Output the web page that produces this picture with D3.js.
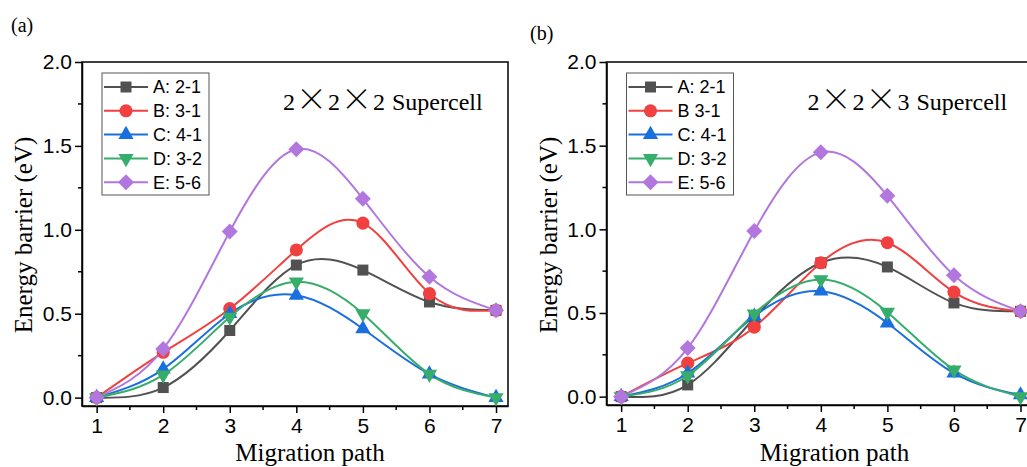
<!DOCTYPE html>
<html>
<head>
<meta charset="utf-8">
<script src="https://cdn.jsdelivr.net/npm/d3@7"></script>
<style>
  body { margin: 0; background: #fff; }
  svg { display: block; }
</style>
</head>
<body>
<script>
// migration path index (x axis)
var paths = [1, 2, 3, 4, 5, 6, 7];

// legend names
var namesA = ["A: 2-1", "B: 3-1", "C: 4-1", "D: 3-2", "E: 5-6"];
var namesB = ["A: 2-1", "B 3-1", "C: 4-1", "D: 3-2", "E: 5-6"];

// (a) 2x2x2 supercell, energy barrier in eV
var a_A = [0, 0.06, 0.40, 0.79, 0.76, 0.57, 0.52];
var a_B = [0, 0.27, 0.53, 0.88, 1.04, 0.62, 0.52];
var a_C = [0, 0.17, 0.50, 0.61, 0.41, 0.14, 0];
var a_D = [0, 0.135, 0.48, 0.69, 0.50, 0.14, 0];
var a_E = [0, 0.29, 0.99, 1.48, 1.185, 0.72, 0.52];

// (b) 2x2x3 supercell
var b_A = [0, 0.07, 0.47, 0.80, 0.775, 0.56, 0.51];
var b_B = [0, 0.20, 0.415, 0.80, 0.92, 0.625, 0.51];
var b_C = [0, 0.14, 0.48, 0.63, 0.44, 0.14, 0.01];
var b_D = [0, 0.125, 0.495, 0.70, 0.505, 0.16, 0];
var b_E = [0, 0.29, 0.99, 1.46, 1.20, 0.725, 0.51];

var yTicks = [0, 0.5, 1.0, 1.5, 2.0];
var yMinor = [0.25, 0.75, 1.25, 1.75];
var xMinor = [1.5, 2.5, 3.5, 4.5, 5.5, 6.5];

var colors = ["#515151", "#F14040", "#1A6FDF", "#37AD6B", "#B177DE"];

var W = 1027, H = 467;
var svg = d3.select("body").append("svg")
    .attr("width", W)
    .attr("height", H);

var serif = "'Liberation Serif', 'Times New Roman', serif";
var sans = "'Liberation Sans', Arial, sans-serif";

// marker per series: square, circle, up triangle, down triangle, diamond
function marker(i) {
    if (i == 0) return { p: d3.symbol(d3.symbolSquare, 121)(), r: 0 };
    if (i == 1) return { p: d3.symbol(d3.symbolCircle, 135)(), r: 0 };
    if (i == 2) return { p: d3.symbol(d3.symbolTriangle, 100)(), r: 0 };
    if (i == 3) return { p: d3.symbol(d3.symbolTriangle, 100)(), r: 180 };
    return { p: d3.symbol(d3.symbolSquare, 128)(), r: 45 };
}

function panel(opt) {
    var x = d3.scaleLinear().domain([0.78, 7.18]).range([opt.left, opt.left + 426]);
    var y = d3.scaleLinear().domain([-0.05, 2.0]).range([opt.bottom, 62]);
    var g = svg.append("g");

    // frame (top + right)
    g.append("rect")
        .attr("x", x.range()[0]).attr("y", y.range()[1])
        .attr("width", x.range()[1] - x.range()[0])
        .attr("height", y.range()[0] - y.range()[1])
        .attr("fill", "none").attr("stroke", "#000").attr("stroke-width", 1.5);

    // x axis
    var xa = g.append("g")
        .attr("transform", "translate(0," + y.range()[0] + ")")
        .call(d3.axisBottom(x).tickValues(paths).tickFormat(d3.format("d")).tickSize(7).tickPadding(5).tickSizeOuter(0));
    xa.append("g").selectAll("line").data(xMinor).enter().append("line")
        .attr("x1", function(d){ return x(d); }).attr("x2", function(d){ return x(d); })
        .attr("y1", 0).attr("y2", 4).attr("stroke", "#000").attr("stroke-width", 1.5);

    // y axis
    var ya = g.append("g")
        .attr("transform", "translate(" + x.range()[0] + ",0)")
        .call(d3.axisLeft(y).tickValues(yTicks).tickFormat(d3.format(".1f")).tickSize(7).tickPadding(3).tickSizeOuter(0));
    ya.append("g").selectAll("line").data(yMinor).enter().append("line")
        .attr("y1", function(d){ return y(d); }).attr("y2", function(d){ return y(d); })
        .attr("x1", 0).attr("x2", -4).attr("stroke", "#000").attr("stroke-width", 1.5);

    [xa, ya].forEach(function(a){
        a.select(".domain").attr("stroke-width", 1.5);
        a.selectAll(".tick line").attr("stroke-width", 1.5);
        a.selectAll("text").attr("font-family", sans).attr("font-size", 21).attr("fill", "#000");
    });

    // series
    var line = d3.line()
        .x(function(d, i){ return x(paths[i]); })
        .y(function(d){ return y(d); })
        .curve(d3.curveNatural);

    opt.series.forEach(function(s, k){
        g.append("path").datum(s)
            .attr("d", line)
            .attr("fill", "none")
            .attr("stroke", colors[k])
            .attr("stroke-width", 2);
    });
    opt.series.forEach(function(s, k){
        var m = marker(k);
        g.append("g").selectAll("path").data(s).enter().append("path")
            .attr("d", m.p)
            .attr("transform", function(d, i){
                return "translate(" + x(paths[i]) + "," + y(d) + ") rotate(" + m.r + ")";
            })
            .attr("fill", colors[k]);
    });

    // legend
    var lx = x.range()[0] + 20, ly = 73;
    var lg = g.append("g").attr("transform", "translate(" + lx + "," + ly + ")");
    lg.append("rect").attr("width", 107).attr("height", 122)
        .attr("fill", "#fff").attr("stroke", "#555").attr("stroke-width", 1);
    opt.names.forEach(function(n, k){
        var yy = 14 + k * 23.8;
        var m = marker(k);
        lg.append("line").attr("x1", 2).attr("x2", 46).attr("y1", yy).attr("y2", yy)
            .attr("stroke", colors[k]).attr("stroke-width", 2);
        lg.append("path").attr("d", m.p)
            .attr("transform", "translate(24," + yy + ") rotate(" + m.r + ")")
            .attr("fill", colors[k]);
        lg.append("text").attr("x", 51).attr("y", yy).attr("dy", "0.35em")
            .attr("font-family", sans).attr("font-size", 18).text(n);
    });

    // supercell label
    var t = g.append("text").attr("x", x.range()[0] + 201).attr("y", 110)
        .attr("font-family", serif).attr("font-size", 24);
    opt.cell.forEach(function(p, i){
        if (p == "×") {
            t.append("tspan").attr("dx", 1).attr("font-family", "'Noto Sans CJK SC', sans-serif")
                .attr("font-size", 31).attr("font-weight", 300).text("×");
        } else {
            t.append("tspan").attr("dx", i == 0 ? 0 : 1).text(p);
        }
    });

    // axis titles
    g.append("text")
        .attr("x", (x.range()[0] + x.range()[1]) / 2 + 15)
        .attr("y", 461)
        .attr("text-anchor", "middle")
        .attr("font-family", serif).attr("font-size", 25)
        .text("Migration path");
    g.append("text")
        .attr("transform", "translate(" + (x.range()[0] - 50) + ",235) rotate(-90)")
        .attr("text-anchor", "middle")
        .attr("font-family", serif).attr("font-size", 25)
        .text("Energy barrier (eV)");

    // panel letter
    g.append("text").attr("x", opt.labX).attr("y", opt.labY)
        .attr("font-family", serif).attr("font-size", 20).text(opt.lab);
}

panel({ left: 82, bottom: 406, series: [a_A, a_B, a_C, a_D, a_E], names: namesA,
        cell: ["2", "×", "2", "×", "2", " Supercell"], lab: "(a)", labX: 11, labY: 32 });
panel({ left: 606.5, bottom: 405, series: [b_A, b_B, b_C, b_D, b_E], names: namesB,
        cell: ["2", "×", "2", "×", "3", " Supercell"], lab: "(b)", labX: 530, labY: 40 });
</script>
</body>
</html>
